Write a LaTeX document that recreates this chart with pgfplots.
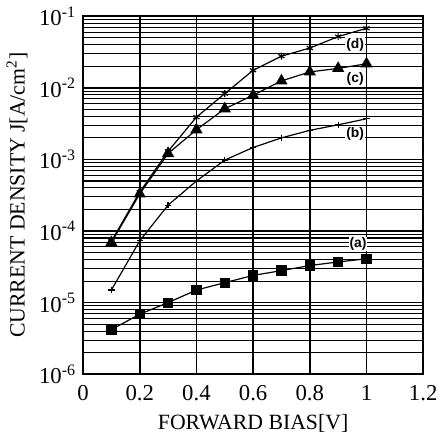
\documentclass[border=0pt]{standalone}
\usepackage{fontspec}
\setmainfont{Liberation Serif}
\newfontfamily\labfont{Liberation Sans}
\usepackage{pgfplots}
\pgfplotsset{compat=1.18}
\begin{document}
\begin{tikzpicture}
\begin{axis}[
  scale only axis, width=172pt, height=181pt,
  xmin=0, xmax=1.2, ymin=1e-6, ymax=1e-1, ymode=log,
  xtick={0,0.2,0.4,0.6,0.8,1,1.2},
  xticklabels={0,0.2,0.4,0.6,0.8,1,1.2},
  ytick={1e-6,1e-5,1e-4,1e-3,1e-2,1e-1},
  yticklabels={10\textsuperscript{-6},10\textsuperscript{-5},10\textsuperscript{-4},10\textsuperscript{-3},10\textsuperscript{-2},10\textsuperscript{-1}},
  xmajorgrids=true, ymajorgrids=true, yminorgrids=true,
  major grid style={black,line width=0.8pt},
  minor grid style={black,line width=0.55pt},
  major tick length=0pt, minor tick length=0pt,
  axis line style={black,line width=0.9pt},
  tick label style={font=\fontsize{11.5}{13}\selectfont},
  label style={font=\fontsize{11}{13}\selectfont},
  xticklabel style={yshift=-2pt},
  xlabel={FORWARD BIAS[V]},
  ylabel={CURRENT DENSITY J[A/cm\textsuperscript{2}]},
  xlabel style={yshift=0pt},
  ylabel style={yshift=-1pt},
  /pgf/number format/assume math mode=true,
  every axis plot/.append style={black, line width=0.6pt},
]
\addplot[mark=square*, mark size=2.3pt] coordinates {
 (0.1,4.2e-6) (0.2,6.9e-6) (0.3,1.0e-5) (0.4,1.5e-5) (0.5,1.9e-5)
 (0.6,2.4e-5) (0.7,2.8e-5) (0.8,3.3e-5) (0.9,3.7e-5) (1.0,4.1e-5)};
\addplot[mark=+, mark size=1.6pt] coordinates {
 (0.1,1.5e-5) (0.2,7.3e-5) (0.3,2.3e-4) (0.4,5.0e-4) (0.5,9.8e-4)
 (0.6,1.47e-3) (0.7,2.0e-3) (0.8,2.55e-3) (0.9,3.05e-3) (1.0,3.7e-3)};
\addplot[mark=triangle*, mark size=3pt] coordinates {
 (0.1,6.9e-5) (0.2,3.3e-4) (0.3,1.21e-3) (0.4,2.6e-3) (0.5,5.1e-3)
 (0.6,7.9e-3) (0.7,1.25e-2) (0.8,1.67e-2) (0.9,1.87e-2) (1.0,2.17e-2)};
\addplot[mark=asterisk, mark size=1.8pt] coordinates {
 (0.1,7.2e-5) (0.2,3.5e-4) (0.3,1.3e-3) (0.4,3.9e-3) (0.5,8.3e-3)
 (0.6,1.76e-2) (0.7,2.77e-2) (0.8,3.6e-2) (0.9,5.2e-2) (1.0,6.8e-2)};
\node[font=\labfont\bfseries\fontsize{7}{8}\selectfont, fill=white, inner sep=0.5pt] at (axis cs:0.96,0.04) {(d)};
\node[font=\labfont\bfseries\fontsize{7}{8}\selectfont, fill=white, inner sep=0.5pt] at (axis cs:0.96,0.0135) {(c)};
\node[font=\labfont\bfseries\fontsize{7}{8}\selectfont, fill=white, inner sep=0.5pt] at (axis cs:0.96,2.3e-3) {(b)};
\node[font=\labfont\bfseries\fontsize{7}{8}\selectfont, fill=white, inner sep=0.5pt] at (axis cs:0.97,6.6e-5) {(a)};
\end{axis}
\end{tikzpicture}
\end{document}
